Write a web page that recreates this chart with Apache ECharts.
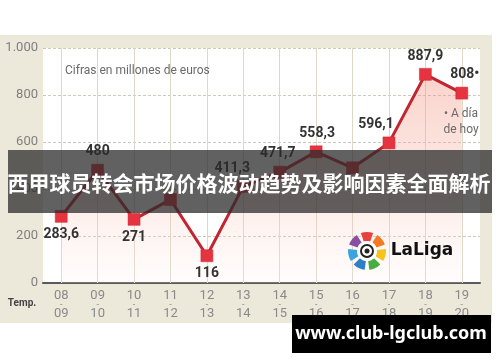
<!DOCTYPE html>
<html>
<head>
<meta charset="utf-8">
<script src="https://cdn.jsdelivr.net/npm/echarts@6/dist/echarts.min.js"></script>
<style>
html,body{margin:0;padding:0;background:#fff;}
#c{width:500px;height:362px;}
</style>
</head>
<body>
<div id="c"></div>
<script>
// ---- data ----
const seasonStart = ['08','09','10','11','12','13','14','15','16','17','18','19'];
const seasonEnd   = ['09','10','11','12','13','14','15','16','17','18','19','20'];
const values = [283.6, 480, 271, 355, 116, 411.3, 471.7, 558.3, 490, 596.1, 887.9, 808];
const valueLabels = ['283,6','480','271','','116','411,3','471,7','558,3','','596,1','887,9','808•'];
const yTicks = [0, 200, 400, 600, 800, 1000];
const yTickLabels = ['0','200','400','600','800','1.000'];
const titleText = '西甲球员转会市场价格波动趋势及影响因素全面解析';
const noteText = 'Cifras en millones de euros';
const footNote = '• A día\nde hoy';
const axisName = 'Temp.';
const watermark = 'www.club-lgclub.com';

// ---- styling (not data) ----
const labelPlace = ['bottom','top','bottom','top','bottom','top','top','top','top','top','top','top'];
const labelShift = [[0,0],[0,0],[0,0],[0,0],[0,0],[-11,0],[-2,0],[1,0],[0,0],[-13,0],[0,0],[3,0]];

const categories = seasonStart.map((s,i)=>s+'/'+seasonEnd[i]);
const seriesData = values.map((v,i)=>({
  value: v,
  label: {
    show: valueLabels[i] !== '',
    position: labelPlace[i],
    offset: labelShift[i],
    distance: 5,
    formatter: valueLabels[i]
  }
}));

const chart = echarts.init(document.getElementById('c'), null, {renderer:'canvas'});

const logoColors = ['#e8423c','#f47a22','#f6c21c','#46ad3e','#2f7fc8','#3aa4dc','#8a4fa3'];
const logoCx = 367, logoCy = 251, rOut = 19, rIn = 10;
const logoEls = logoColors.map((c,i)=>{
  const step = Math.PI*2/logoColors.length;
  const start = -Math.PI/2 - step*0.5 + i*step + 0.12;
  return {
    type:'sector', z:50,
    shape:{cx:logoCx, cy:logoCy, r:rOut, r0:rIn, startAngle:start, endAngle:start+step-0.24},
    style:{fill:c}
  };
});

const option = {
  backgroundColor: '#ece8da',
  animation: false,
  textStyle: {fontFamily: 'Roboto, "Noto Sans", sans-serif'},
  grid: {
    left: 43, right: 20, top: 48, bottom: 79,
    show: true, backgroundColor: '#ffffff', borderWidth: 0
  },
  xAxis: {
    type: 'category',
    data: categories,
    boundaryGap: true,
    axisLine: {show: true, lineStyle: {color: '#5a5a5a', width: 2}},
    axisTick: {show: false},
    splitLine: {show: false},
    axisLabel: {
      margin: 8,
      interval: 0,
      formatter: (v, i) => '{a|' + seasonStart[i] + '}\n{d|-}\n{a|' + seasonEnd[i] + '}',
      rich: {
        a: {fontSize: 13, color: '#8a8a8a', lineHeight: 9, fontFamily: 'Roboto'},
        d: {fontSize: 9, color: '#8a8a8a', lineHeight: 9, fontFamily: 'Roboto'}
      }
    }
  },
  yAxis: {
    type: 'value',
    min: yTicks[0], max: yTicks[yTicks.length-1], interval: yTicks[1]-yTicks[0],
    axisLine: {show: false},
    axisTick: {show: false},
    axisLabel: {
      margin: 5, fontSize: 13, color: '#808080', fontFamily: 'Roboto',
      formatter: v => yTickLabels[yTicks.indexOf(v)]
    },
    splitLine: {show: true, lineStyle: {color: '#cdc8ba', type: [3,2], width: 1}}
  },
  series: [{
    type: 'line',
    data: [],
    z: 1,
    silent: true,
    markLine: {
      silent: true,
      z: 1,
      symbol: ['none','none'],
      label: {show: false},
      lineStyle: {color: '#ddd8c9', width: 1, type: 'solid'},
      data: categories.map(c => ({xAxis: c}))
    }
  }, {
    type: 'line',
    data: seriesData,
    symbol: 'rect',
    symbolSize: 12,
    z: 3,
    lineStyle: {color: '#c1252f', width: 3},
    itemStyle: {color: '#e5333f', borderColor: '#d02a35', borderWidth: 0.5},
    areaStyle: {
      color: new echarts.graphic.LinearGradient(0,0,0,1,[
        {offset:0, color:'rgba(242,140,120,0.55)'},
        {offset:0.6, color:'rgba(248,190,175,0.42)'},
        {offset:1, color:'rgba(255,240,236,0.25)'}
      ])
    },
    label: {
      color: '#333', fontSize: 14, fontWeight: 'bold', fontFamily: 'Roboto'
    }
  }],
  graphic: [
    // white margins around the beige panel
    {type:'rect', z:40, shape:{x:0,y:0,width:500,height:35}, style:{fill:'#fff'}},
    {type:'rect', z:40, shape:{x:492,y:0,width:8,height:362}, style:{fill:'#fff'}},
    {type:'rect', z:40, shape:{x:0,y:323,width:500,height:39}, style:{fill:'#fff'}},
    {type:'text', z:50, left:65, top:65,
      style:{text:noteText, fill:'#6a6a6a', fontSize:12, fontFamily:'Roboto'}},
    {type:'text', z:50, x:461, y:106,
      style:{text:footNote, fill:'#6a6a6a', fontSize:12, fontFamily:'Roboto', align:'center', lineHeight:16}},
    {type:'text', z:50, x:22, y:303,
      style:{text:axisName, fill:'#444', fontSize:10, fontWeight:'bold', fontFamily:'Roboto', align:'center', verticalAlign:'middle'}},
    // LaLiga logo
    ...logoEls,
    {type:'circle', z:50, shape:{cx:logoCx, cy:logoCy, r:rIn}, style:{fill:'#fff'}},
    {type:'circle', z:51, shape:{cx:logoCx, cy:logoCy, r:6}, style:{fill:'#fff', stroke:'#222', lineWidth:2}},
    {type:'circle', z:52, shape:{cx:logoCx, cy:logoCy, r:2.5}, style:{fill:'#222'}},
    {type:'text', z:50, x:422, y:251,
      style:{text:'LaLiga', fill:'#111', fontSize:17, fontWeight:900, fontFamily:'"DejaVu Sans"', align:'center', verticalAlign:'middle'}},
    // title banner
    {type:'rect', z:100, shape:{x:8,y:150,width:484,height:63}, style:{fill:'rgba(42,42,42,0.74)'}},
    {type:'text', z:101, x:249, y:183,
      style:{text:titleText, fill:'#fff', fontSize:21, fontWeight:'bold', fontFamily:'"Noto Sans CJK SC"', align:'center', verticalAlign:'middle'}},
    // watermark
    {type:'rect', z:100, shape:{x:292,y:315,width:199,height:38}, style:{fill:'#000'}},
    {type:'text', z:101, x:391, y:334,
      style:{text:watermark, fill:'#fff', fontSize:18, fontWeight:'bold', fontFamily:'"Noto Sans"', align:'center', verticalAlign:'middle'}}
  ]
};
chart.setOption(option);
</script>
</body>
</html>
